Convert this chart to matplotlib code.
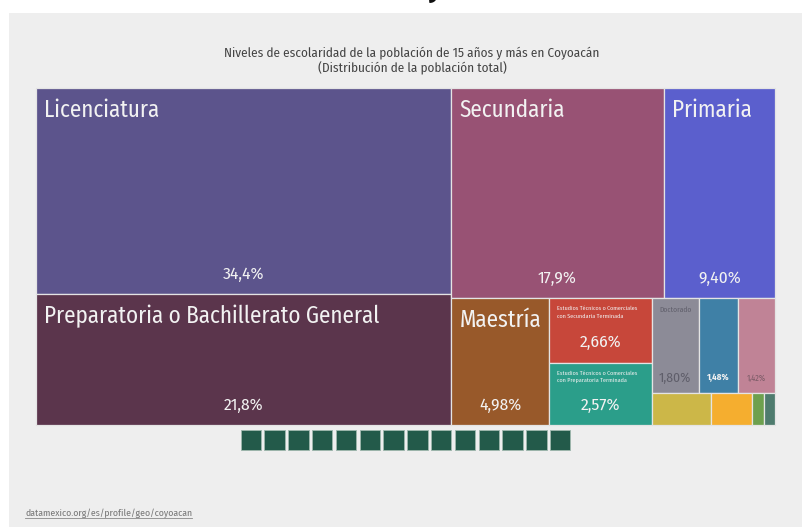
import matplotlib
matplotlib.use("Agg")
import matplotlib.pyplot as plt
from matplotlib.patches import Rectangle
import numpy as np

plt.rcParams['font.family'] = ['Fira Sans Condensed', 'DejaVu Sans']

title = "Niveles de escolaridad de la población de 15 años y más en Coyoacán\n(Distribución de la población total)"
source = "datamexico.org/es/profile/geo/coyoacan"

categories = [
    "Licenciatura",
    "Preparatoria o Bachillerato General",
    "Secundaria",
    "Primaria",
    "Maestría",
    "Estudios Técnicos o Comerciales\ncon Secundaria Terminada",
    "Estudios Técnicos o Comerciales\ncon Preparatoria Terminada",
    "Doctorado",
    "Normal de Licenciatura",
    "Sin Escolaridad",
    "Preescolar",
    "Estudios Técnicos o Comerciales con Primaria Terminada",
    "Normal Básica",
    "No Especificado",
]
values = [34.4, 21.8, 17.9, 9.40, 4.98, 2.66, 2.57, 1.80, 1.48, 1.42, 0.77, 0.53, 0.15, 0.14]
colors = ["#5c548c", "#5b354c", "#985274", "#5b5fcd", "#98592a", "#c7473a", "#2b9e8a",
          "#8c8b97", "#3f80a6", "#c08396", "#ccb748", "#f5ae2f", "#6da04e", "#4e7b6e"]
# how the squarified layout grouped the nodes: (number of nodes, strip orientation)
strips = [(2, "col"), (2, "row"), (1, "col"), (2, "col"), (3, "row"), (4, "row")]

# label style per node: name size, percent size, text colour
name_size = [16.6, 16.6, 16.6, 16.6, 16.6, 4.4, 4.4, 5.4, 0, 0, 0, 0, 0, 0]
pct_size = [12.5, 12.5, 12.5, 12.5, 12.5, 12.5, 12.5, 9.8, 6.5, 6, 0, 0, 0, 0]
text_color = ["#f2f2f2"] * 7 + ["#5f5e6a", "#f2f2f2", "#7a5a66"] + ["#f2f2f2"] * 4
pct_bold = [False] * 8 + [True, False] + [False] * 4

n_pages = 14


def fmt_pct(v):
    dec = max(0, 2 - int(np.floor(np.log10(v))))
    return f"{v:.{dec}f}%".replace(".", ",")


def layout(vals, box):
    x0, y0, x1, y1 = box
    rects = []
    rest = sum(vals)
    i = 0
    for count, orient in strips:
        part = vals[i:i + count]
        s = sum(part)
        if orient == "col":
            w = (x1 - x0) * s / rest
            y = y0
            for v in part:
                h = (y1 - y0) * v / s
                rects.append((x0, y, w, h))
                y += h
            x0 += w
        else:
            h = (y1 - y0) * s / rest
            x = x0
            for v in part:
                w = (x1 - x0) * v / s
                rects.append((x, y0, w, h))
                x += w
            y0 += h
        rest -= s
        i += count
    return rects


W, H = 802, 527
fig = plt.figure(figsize=(W / 100, H / 100), dpi=100)
fig.patch.set_facecolor("white")
ax = fig.add_axes([0, 0, 1, 1])
ax.set_xlim(0, W)
ax.set_ylim(H, 0)
ax.axis("off")

# panel
ax.add_patch(Rectangle((9, 13), W - 9, H - 13, facecolor="#eeeeee", edgecolor="none"))
# tail of a heading cut off at the top
ax.text(434, 3, "y", fontsize=20, fontweight="bold", color="#111111",
        ha="center", va="bottom")

ax.text(412, 61, title, ha="center", va="center", fontsize=9.5,
        color="#444444", linespacing=1.2)

box = (36, 88, 775, 425)
rects = layout(values, box)
for k, (x, y, w, h) in enumerate(rects):
    ax.add_patch(Rectangle((x, y), w, h, facecolor=colors[k],
                           edgecolor="#e4e4e4", linewidth=0.9))
    if name_size[k] > 10:
        ax.text(x + 8.5, y + 22.5, categories[k], fontsize=name_size[k],
                color=text_color[k], ha="left", va="center")
    elif name_size[k] > 0:
        ax.text(x + 8, y + 8, categories[k], fontsize=name_size[k],
                color=text_color[k], ha="left", va="top", linespacing=1.5)
    if pct_size[k] > 0:
        off = 20 if pct_size[k] >= 11 else 15
        ax.text(x + w / 2, y + h - off, fmt_pct(values[k]), fontsize=pct_size[k],
                color=text_color[k], ha="center", va="center",
                fontweight="bold" if pct_bold[k] else "normal")

# page squares under the chart
sq, step = 20.5, 23.8
start = (box[0] + box[2]) / 2 - (step * (n_pages - 1) + sq) / 2
for p in range(n_pages):
    ax.add_patch(Rectangle((start + p * step, 430), sq, 20, facecolor="#235a4a",
                           edgecolor="#9fb8ae", linewidth=0.6))

t = ax.text(25, 513, source, fontsize=7, color="#777777", ha="left", va="center")
fig.canvas.draw()
bb = t.get_window_extent()
ax.plot([bb.x0, bb.x1], [518, 518], color="#888888", linewidth=0.6)

fig.savefig("out.png", dpi=100, facecolor=fig.get_facecolor())
